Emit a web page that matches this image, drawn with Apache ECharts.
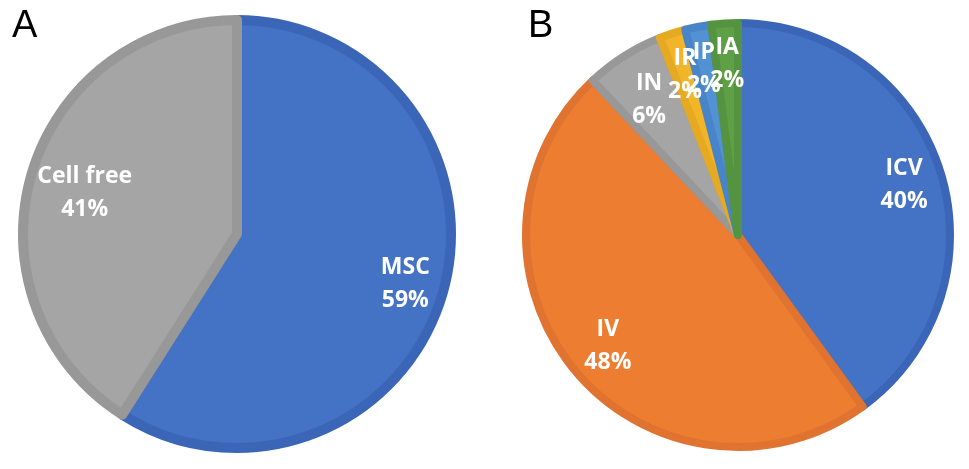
<!DOCTYPE html>
<html>
<head>
<meta charset="utf-8">
<script src="https://cdn.jsdelivr.net/npm/echarts@6/dist/echarts.min.js"></script>
<style>
  html, body { margin: 0; padding: 0; background: #fff; }
  #chart { width: 969px; height: 469px; }
</style>
</head>
<body>
<div id="chart"></div>
<script>
// panel A: treatment type
const namesA = ["MSC", "Cell free"];
const valuesA = [59, 41];
const colorsA = ["#4472c4", "#a5a5a5"];
const borderA = ["#3b66b8", "#989898"];
const labelNudgeA = [[6, 3], [10, 6]];

// panel B: route of administration
const namesB = ["ICV", "IV", "IN", "IR", "IP", "IA"];
const valuesB = [40, 48, 6, 2, 2, 2];
const colorsB = ["#4472c4", "#ed7d31", "#a5a5a5", "#f2b52a", "#5291d3", "#5fa046"];
const borderB = ["#3b66b8", "#e07330", "#989898", "#e6aa22", "#4785c8", "#549440"];
const labelNudgeB = [[3, 3], [2, 2], [3, 10], [0, 3], [-2, 2], [0, 0]];

const chart = echarts.init(document.getElementById("chart"));

function slices(names, values, colors, borders) {
  return names.map((n, i) => ({
    name: n,
    value: values[i],
    itemStyle: { color: colors[i], borderColor: borders[i] },
  }));
}

function labelData(names, values, nudge) {
  return names.map((n, i) => ({ name: n, value: values[i], label: { offset: nudge[i] } }));
}

const labelStyle = {
  show: true,
  position: "inside",
  formatter: "{b}\n{d}%",
  color: "#fff",
  fontFamily: "Open Sans",
  fontWeight: "bold",
  fontSize: 23,
  lineHeight: 33,
};

chart.setOption({
  animation: false,
  graphic: [
    { type: "text", left: 12, top: 8, style: { text: "A", font: "38px 'Liberation Sans', Arial", fill: "#000" } },
    { type: "text", left: 528, top: 8, style: { text: "B", font: "38px 'Liberation Sans', Arial", fill: "#000" } },
  ],
  series: [
    {
      type: "pie",
      center: [237, 234],
      radius: 214,
      startAngle: 90,
      clockwise: true,
      silent: true,
      label: { show: false },
      labelLine: { show: false },
      itemStyle: { borderWidth: 10, borderJoin: "round" },
      data: slices(namesA, valuesA, colorsA, borderA),
    },
    {
      type: "pie",
      center: [237, 234],
      radius: [112, 220],
      startAngle: 90,
      clockwise: true,
      silent: true,
      avoidLabelOverlap: false,
      percentPrecision: 0,
      itemStyle: { color: "transparent" },
      label: labelStyle,
      labelLine: { show: false },
      data: labelData(namesA, valuesA, labelNudgeA),
    },
    {
      type: "pie",
      center: [738, 235],
      radius: 212,
      startAngle: 90,
      clockwise: true,
      silent: true,
      label: { show: false },
      labelLine: { show: false },
      itemStyle: { borderWidth: 8, borderJoin: "round" },
      data: slices(namesB, valuesB, colorsB, borderB),
    },
    {
      type: "pie",
      center: [738, 235],
      radius: [121, 216],
      startAngle: 90,
      clockwise: true,
      silent: true,
      avoidLabelOverlap: false,
      percentPrecision: 0,
      itemStyle: { color: "transparent" },
      label: labelStyle,
      labelLine: { show: false },
      labelLayout: { hideOverlap: false },
      data: labelData(namesB, valuesB, labelNudgeB),
    },
  ],
});
</script>
</body>
</html>
